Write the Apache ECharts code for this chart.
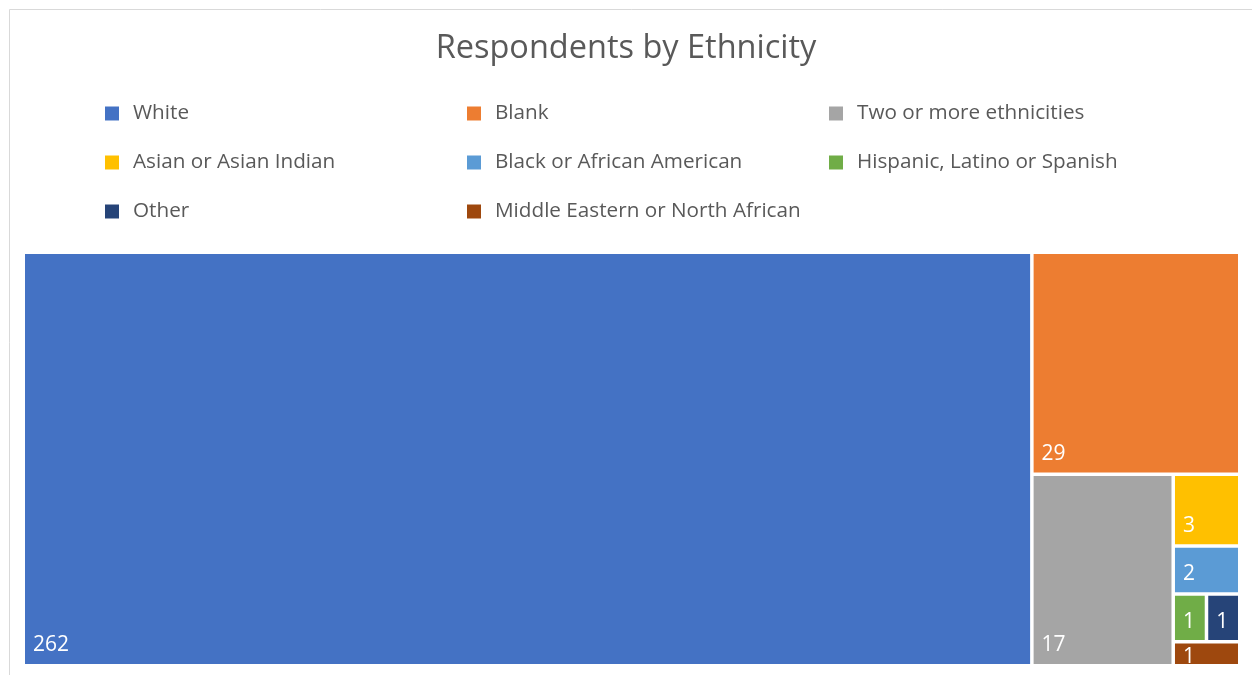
<!DOCTYPE html>
<html>
<head>
<meta charset="utf-8">
<title>Respondents by Ethnicity</title>
<script src="https://cdn.jsdelivr.net/npm/echarts@6/dist/echarts.min.js"></script>
<style>
  html, body { margin: 0; padding: 0; background: #ffffff; }
  #chart { width: 1252px; height: 675px; }
</style>
</head>
<body>
<div id="chart"></div>
<script>
// Survey respondents by ethnicity
const categories = [
  'White',
  'Blank',
  'Two or more ethnicities',
  'Asian or Asian Indian',
  'Black or African American',
  'Hispanic, Latino or Spanish',
  'Other',
  'Middle Eastern or North African'
];
const counts = [262, 29, 17, 3, 2, 1, 1, 1];
const palette = ['#4472C4', '#ED7D31', '#A5A5A5', '#FFC000', '#5B9BD5', '#70AD47', '#264478', '#9E480E'];

const FONT = '"Open Sans", "Noto Sans", sans-serif';
const TEXT_GREY = '#595959';

const chart = echarts.init(document.getElementById('chart'), null, { renderer: 'canvas' });

const treemapData = categories.map((name, i) => {
  const item = {
    name: name,
    value: counts[i],
    itemStyle: { color: palette[i] }
  };
  // The last tile is shorter than its label: pin the label to the top so it is cut at the bottom edge
  if (i === categories.length - 1) {
    item.label = { position: 'insideTopLeft', distance: 3, lineHeight: 20, padding: [0, 0, 0, 5] };
  }
  return item;
});

// Empty series only to feed the legend with names and colours
const legendSeries = categories.map((name, i) => ({
  type: 'scatter',
  name: name,
  data: [],
  itemStyle: { color: palette[i], opacity: 1 },
  xAxisIndex: 0,
  yAxisIndex: 0
}));

chart.setOption({
  backgroundColor: '#ffffff',
  animation: false,
  title: {
    text: 'Respondents by Ethnicity',
    left: 'center',
    top: 32,
    padding: 0,
    textStyle: { fontFamily: FONT, fontSize: 32.5, fontWeight: 'normal', color: TEXT_GREY }
  },
  legend: {
    data: categories,
    left: 105,
    top: 103,
    width: 1100,
    padding: 0,
    orient: 'horizontal',
    icon: 'rect',
    itemWidth: 14,
    itemHeight: 14,
    itemGap: 28,
    selectedMode: false,
    itemStyle: { opacity: 1 },
    textStyle: {
      fontFamily: FONT,
      fontSize: 20.7,
      color: TEXT_GREY,
      width: 306,
      lineHeight: 20,
      padding: [0, 0, 0, 9]
    }
  },
  grid: { show: false, left: 0, top: 0, width: 1, height: 1 },
  xAxis: { show: false, type: 'value' },
  yAxis: { show: false, type: 'value' },
  graphic: [{
    type: 'rect',
    silent: true,
    shape: { x: 9.5, y: 9.5, width: 1260, height: 680 },
    style: { fill: null, stroke: '#D9D9D9', lineWidth: 1 }
  }],
  series: [{
    type: 'treemap',
    name: 'Respondents',
    left: 25,
    top: 254,
    width: 1213,
    height: 410,
    roam: false,
    nodeClick: false,
    breadcrumb: { show: false },
    sort: false,
    squareRatio: 1,
    levels: [
      { itemStyle: { borderWidth: 0, gapWidth: 3.5 } },
      { itemStyle: { borderWidth: 0, gapWidth: 0 } }
    ],
    label: {
      show: true,
      position: 'insideBottomLeft',
      distance: 3,
      formatter: '{c}',
      fontFamily: FONT,
      fontSize: 21,
      color: '#ffffff'
    },
    upperLabel: { show: false },
    data: treemapData
  }].concat(legendSeries)
});
</script>
</body>
</html>
